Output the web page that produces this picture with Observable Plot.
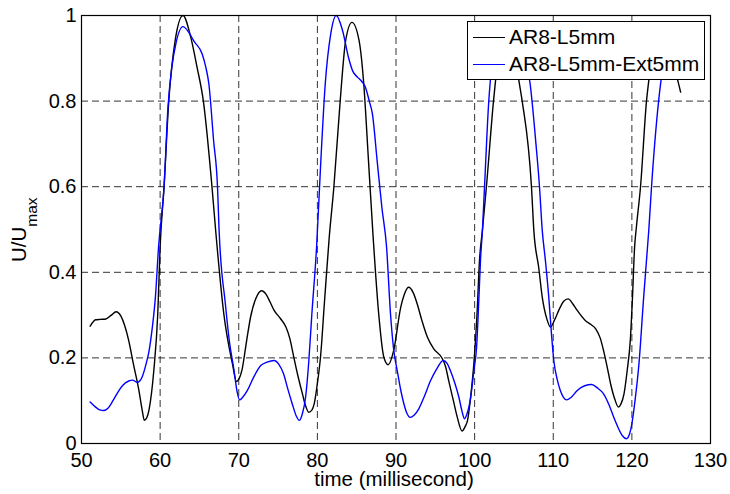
<!DOCTYPE html>
<html>
<head>
<meta charset="utf-8">
<script src="https://cdn.jsdelivr.net/npm/d3@7"></script>
<script src="https://cdn.jsdelivr.net/npm/@observablehq/plot@0.6"></script>
<style>
  html, body { margin: 0; padding: 0; background: #fff; }
  #wrap { position: relative; width: 730px; height: 494px; font-family: "Liberation Sans", Arial, sans-serif; }
  #legend { position: absolute; left: 467px; top: 21px; width: 236px; height: 57px; background: #fff; border: 1.3px solid #000; }
  .row { position: absolute; left: 0; height: 24px; display: flex; align-items: center; font-size: 21px; color: #000; white-space: nowrap; }
  .sw { display: inline-block; width: 32px; height: 0; border-top: 1.5px solid; margin-left: 5px; margin-right: 4px; }
</style>
</head>
<body>
<div id="wrap"></div>
<script>
// ---- data ----
const seriesNames = ["AR8-L5mm", "AR8-L5mm-Ext5mm"];
const seriesColors = ["#000000", "#0000ff"];

const tBlack = [51.1,51.8,52.4,53.1,53.8,54.4,55.0,55.5,56.0,56.6,57.3,57.7,58.0,58.3,58.6,59.2,59.7,60.0,60.5,61.1,61.9,62.9,63.9,64.7,65.5,66.6,67.1,68.1,69.2,69.7,70.0,70.4,71.0,71.5,72.2,72.9,73.5,74.0,74.5,75.3,76.0,76.5,77.0,77.5,78.1,78.5,78.9,79.3,79.6,80.0,80.4,80.9,81.5,82.1,82.9,83.6,84.4,85.3,85.9,86.5,87.1,87.8,88.45,89.0,89.7,90.6,91.0,91.6,92.2,92.7,93.3,94.0,94.8,95.9,96.3,96.7,97.3,97.8,98.4,98.8,99.1,99.5,99.9,100.3,100.62,101.0,101.5,102.4,102.66,103.2,104.0,104.8,105.3,105.63,106.05,107.23,107.53,108.16,108.6,109.2,109.65,110.2,110.7,111.3,111.9,112.5,113.05,114.1,114.8,115.4,116.0,116.4,116.9,117.3,117.8,118.3,118.6,119.0,119.4,119.8,120.05,120.35,120.6,121.1,121.86,122.15,122.7,123.5,124.3,125.0,125.5,125.84,126.2];
const vBlack = [0.274,0.289,0.290,0.291,0.300,0.308,0.298,0.275,0.241,0.186,0.124,0.080,0.054,0.060,0.080,0.171,0.303,0.459,0.60,0.80,0.94,1.0,0.949,0.879,0.80,0.599,0.49,0.303,0.186,0.145,0.150,0.171,0.24,0.295,0.340,0.357,0.348,0.330,0.311,0.292,0.272,0.245,0.202,0.160,0.116,0.088,0.073,0.078,0.093,0.140,0.202,0.33,0.48,0.60,0.80,0.942,0.984,0.942,0.84,0.661,0.48,0.303,0.202,0.184,0.217,0.318,0.345,0.365,0.352,0.326,0.287,0.248,0.221,0.198,0.180,0.147,0.100,0.061,0.029,0.040,0.054,0.110,0.186,0.30,0.428,0.50,0.60,0.80,0.848,0.93,0.97,0.95,0.89,0.848,0.80,0.60,0.498,0.41,0.342,0.290,0.272,0.290,0.311,0.332,0.338,0.326,0.311,0.287,0.278,0.268,0.245,0.217,0.175,0.139,0.105,0.085,0.092,0.116,0.17,0.241,0.33,0.46,0.51,0.60,0.80,0.848,0.93,0.975,0.96,0.92,0.87,0.848,0.821];

const tBlue = [51.1,51.8,52.4,52.8,53.4,54.0,54.5,55.2,56.0,56.5,57.1,57.4,57.7,58.2,58.6,59.0,59.4,59.8,60.5,61.0,61.5,62.0,62.9,63.6,64.3,65.35,65.8,66.2,66.8,67.3,67.5,68.3,68.8,69.4,69.8,70.1,70.5,71.1,71.9,72.8,73.6,74.5,75.1,75.7,76.2,76.8,77.3,77.7,78.1,78.5,78.9,79.3,79.9,80.4,81.0,81.7,82.4,83.2,84.0,84.5,85.1,85.6,86.1,86.6,87.0,87.6,88.2,88.8,89.3,89.7,90.15,90.6,91.0,91.4,91.8,92.3,92.9,93.6,94.4,95.2,96.0,96.5,96.9,97.5,98.0,98.4,98.7,99.0,99.5,99.9,100.25,100.5,100.75,101.0,101.26,101.8,102.0,102.5,103.2,103.9,104.7,105.5,106.3,107.0,107.3,107.8,108.25,108.6,109.0,109.43,109.8,110.07,110.5,110.9,111.3,111.7,112.3,113.05,114.0,114.9,115.6,116.4,117.1,117.7,118.3,118.8,119.3,119.7,120.0,120.4,120.9,121.5,121.86,122.15,122.5,123.4,123.7,124.3,125.0,125.7,126.2];
const vBlue = [0.097,0.085,0.078,0.077,0.083,0.100,0.116,0.135,0.146,0.148,0.143,0.146,0.155,0.185,0.217,0.27,0.342,0.459,0.60,0.786,0.88,0.934,0.974,0.962,0.94,0.91,0.88,0.84,0.708,0.599,0.498,0.326,0.24,0.171,0.12,0.102,0.108,0.124,0.155,0.182,0.190,0.194,0.185,0.163,0.13,0.093,0.065,0.054,0.070,0.108,0.19,0.303,0.459,0.646,0.84,0.957,1.0,0.965,0.899,0.87,0.856,0.847,0.833,0.80,0.770,0.661,0.552,0.459,0.303,0.22,0.171,0.125,0.093,0.070,0.061,0.066,0.081,0.11,0.147,0.175,0.194,0.187,0.171,0.14,0.108,0.075,0.058,0.068,0.108,0.17,0.225,0.32,0.43,0.50,0.60,0.80,0.848,0.92,0.965,0.975,0.955,0.92,0.885,0.848,0.80,0.70,0.60,0.498,0.428,0.342,0.25,0.194,0.150,0.124,0.108,0.102,0.108,0.124,0.135,0.138,0.130,0.116,0.09,0.061,0.035,0.018,0.011,0.022,0.046,0.10,0.186,0.342,0.428,0.498,0.60,0.80,0.848,0.92,0.96,0.97,0.96];

const xTicks = [50, 60, 70, 80, 90, 100, 110, 120, 130];
const yTicks = [0, 0.2, 0.4, 0.6, 0.8, 1];
const xGridTicks = [60, 70, 80, 90, 100, 110, 120];
const yGridTicks = [0.2, 0.4, 0.6, 0.8];
const xLabel = "time (millisecond)";

// ---- build ----
const black = tBlack.map((t, i) => ({t, v: vBlack[i]}));
const blue = tBlue.map((t, i) => ({t, v: vBlue[i]}));

const grid = {stroke: "#000", strokeOpacity: 0.8, strokeWidth: 1, strokeDasharray: "7,4"};

const chart = Plot.plot({
  width: 730,
  height: 494,
  marginLeft: 81,
  marginRight: 20,
  marginTop: 15,
  marginBottom: 51,
  style: {fontFamily: "'Liberation Sans', Arial, sans-serif", fontSize: "20px", color: "#000", background: "#fff", overflow: "visible"},
  x: {domain: [50, 130]},
  y: {domain: [0, 1]},
  marks: [
    Plot.gridX(xGridTicks, grid),
    Plot.gridY(yGridTicks, grid),
    Plot.line(black, {x: "t", y: "v", stroke: seriesColors[0], strokeWidth: 1.4, curve: "monotone-x"}),
    Plot.line(blue, {x: "t", y: "v", stroke: seriesColors[1], strokeWidth: 1.4, curve: "monotone-x"}),
    Plot.axisX(xTicks, {anchor: "bottom", tickSize: 0, tickPadding: 9, label: null, fontSize: 20}),
    Plot.axisY(yTicks, {anchor: "left", tickSize: 0, tickPadding: 5, label: null, fontSize: 20, tickFormat: d => String(d)}),
    Plot.frame({stroke: "#000", strokeWidth: 1.2})
  ]
});

const wrap = document.getElementById("wrap");
wrap.appendChild(chart);

// axis titles
const svg = d3.select(chart);
svg.append("text")
  .attr("x", 394).attr("y", 486)
  .attr("text-anchor", "middle")
  .attr("font-size", 20.5)
  .attr("fill", "#000")
  .text(xLabel);
const yl = svg.append("text")
  .attr("transform", "translate(25.5,262) rotate(-90)")
  .attr("text-anchor", "start")
  .attr("fill", "#000");
yl.append("tspan").attr("font-size", 20.5).text("U/U");
yl.append("tspan").attr("font-size", 15.5).attr("dy", 11).text("max");

// legend
const legend = document.createElement("div");
legend.id = "legend";
seriesNames.forEach((name, i) => {
  const row = document.createElement("div");
  row.className = "row";
  row.style.top = (i === 0 ? 3 : 30) + "px";
  const sw = document.createElement("span");
  sw.className = "sw";
  sw.style.borderTopColor = seriesColors[i];
  row.appendChild(sw);
  row.appendChild(document.createTextNode(name));
  legend.appendChild(row);
});
wrap.appendChild(legend);
</script>
</body>
</html>
